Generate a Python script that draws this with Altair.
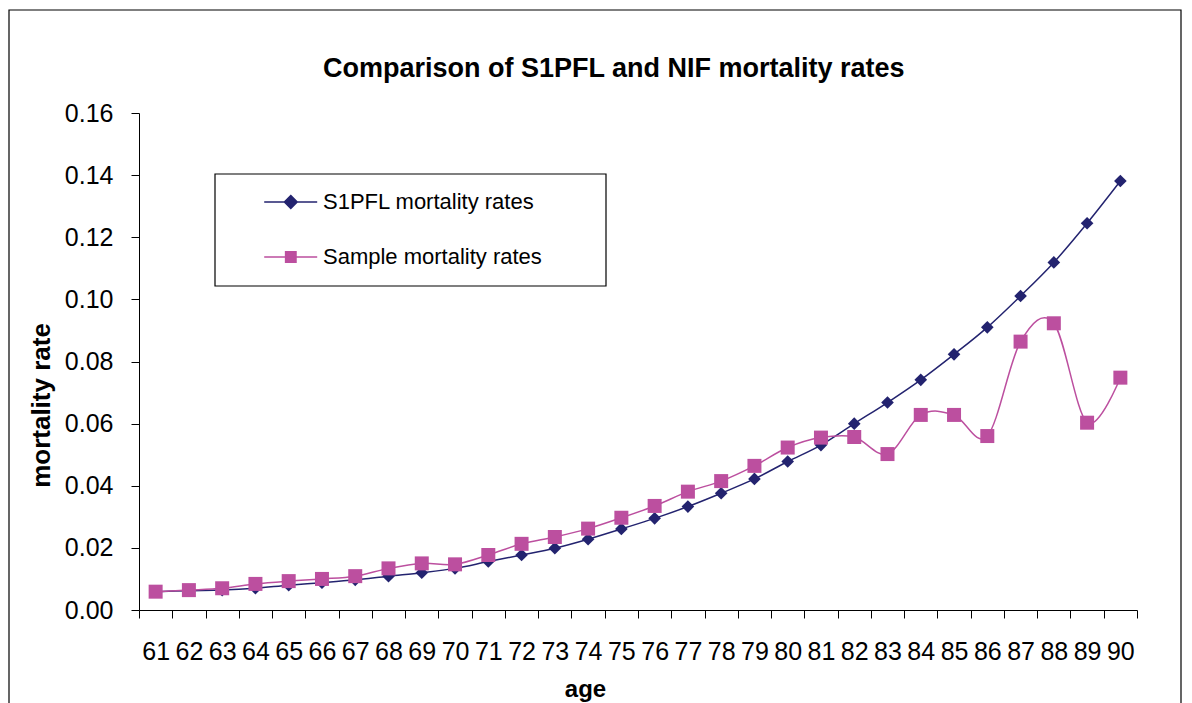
import altair as alt
import pandas as pd

# ---- data ----
ages = list(range(61, 91))
s1pfl = [0.0059, 0.0062, 0.0064, 0.0070, 0.0080, 0.0088, 0.0097, 0.0109, 0.0120, 0.0134,
         0.0156, 0.0177, 0.0199, 0.0228, 0.0261, 0.0295, 0.0333, 0.0376, 0.0422, 0.0478,
         0.0531, 0.0600, 0.0668, 0.0741, 0.0823, 0.0910, 0.1011, 0.1119, 0.1245, 0.1381]
sample = [0.0059, 0.0064, 0.0070, 0.0084, 0.0093, 0.0100, 0.0109, 0.0134, 0.0150, 0.0147,
          0.0177, 0.0213, 0.0235, 0.0262, 0.0297, 0.0335, 0.0381, 0.0415, 0.0464, 0.0523,
          0.0555, 0.0557, 0.0502, 0.0628, 0.0628, 0.0560, 0.0864, 0.0923, 0.0603, 0.0748]
series_names = ["S1PFL mortality rates", "Sample mortality rates"]
series_colors = ["#23236F", "#BC4F9F"]
y_ticks = [0.00, 0.02, 0.04, 0.06, 0.08, 0.10, 0.12, 0.14, 0.16]

rows = []
for a, v in zip(ages, s1pfl):
    rows.append({"age": a, "rate": v, "series": series_names[0]})
for a, v in zip(ages, sample):
    rows.append({"age": a, "rate": v, "series": series_names[1]})
df = pd.DataFrame(rows)

FONT = "Liberation Sans"
W, H = 998, 497

# legend symbols: a short line with the marker in its middle
blue_path = "M1.06,0H3.71M2.39,-0.32L2.71,0L2.39,0.32L2.07,0Z"
pink_path = "M1.06,0H3.71M2.13,-0.26H2.65V0.26H2.13Z"

color_scale = alt.Scale(domain=series_names, range=series_colors)


def make_legend():
    return alt.Legend(
        title=None, orient="none", legendX=76, legendY=61, direction="vertical",
        padding=7, symbolSize=1600, symbolStrokeWidth=1.5, symbolOpacity=1,
        rowPadding=23, labelOffset=59,
        labelFont=FONT, labelFontSize=22, labelColor="black", labelLimit=500,
    )


x_enc = alt.X("age:O",
              scale=alt.Scale(type="band", paddingInner=0, paddingOuter=0),
              axis=alt.Axis(title="age", titleFont=FONT, titleFontSize=24, titleFontWeight="bold",
                            titleColor="black", titleX=446, titleY=86, titleAlign="center",
                            titleBaseline="alphabetic",
                            labelAngle=0, labelFont=FONT, labelFontSize=25, labelColor="black",
                            labelBaseline="alphabetic", labelPadding=41, labelOverlap=False,
                            tickSize=8, tickColor="black", tickBand="extent",
                            domainColor="black", grid=False))
y_enc = alt.Y("rate:Q",
              scale=alt.Scale(domain=[0, 0.16], nice=False, zero=True),
              axis=alt.Axis(values=y_ticks, format=".2f", title="mortality rate",
                            titleFont=FONT, titleFontSize=26, titleFontWeight="bold",
                            titleColor="black", titleAngle=270, titleX=-90, titleY=292,
                            titleAlign="center", titleBaseline="alphabetic",
                            labelFont=FONT, labelFontSize=25, labelColor="black", labelPadding=18,
                            tickSize=8, tickColor="black", domainColor="black", grid=False))

base = alt.Chart(df).encode(x=x_enc, y=y_enc,
                            color=alt.Color("series:N", scale=color_scale, legend=make_legend()))

lines = base.mark_line(interpolate="cardinal", strokeWidth=1.5)
pts_blue = base.transform_filter(alt.datum.series == series_names[0]).mark_point(
    shape="diamond", size=160, filled=True, opacity=1)
pts_pink = base.transform_filter(alt.datum.series == series_names[1]).mark_point(
    shape="square", size=196, filled=True, opacity=1)

# invisible layer whose only job is to give the legend line+marker symbols
legend_layer = base.mark_point(filled=True, opacity=0, size=1).encode(
    shape=alt.Shape("series:N", scale=alt.Scale(domain=series_names, range=[blue_path, pink_path]),
                    legend=make_legend()),
)

deco = pd.DataFrame({"d": [0]})
frame = alt.Chart(deco).mark_rect(fillOpacity=0, stroke="black", strokeWidth=1.2).encode(
    x=alt.value(-130), x2=alt.value(1042), y=alt.value(-103), y2=alt.value(700))
legend_box = alt.Chart(deco).mark_rect(fillOpacity=0, stroke="black", strokeWidth=1.2).encode(
    x=alt.value(76), x2=alt.value(467), y=alt.value(61), y2=alt.value(173))

chart = alt.layer(frame, legend_box, lines, pts_blue, pts_pink, legend_layer).properties(
    width=W, height=H,
    title=alt.TitleParams("Comparison of S1PFL and NIF mortality rates",
                          font=FONT, fontSize=27, fontWeight="bold", color="black",
                          anchor="start", frame="group", dx=184, dy=95, offset=0,
                          baseline="alphabetic"),
    autosize=alt.AutoSizeParams(type="none"),
    padding={"left": 131, "top": 105, "right": 45, "bottom": 98},
    background="white",
).configure_view(strokeOpacity=0)

chart.save("out.html", embed_options={"renderer": "svg", "actions": False})
